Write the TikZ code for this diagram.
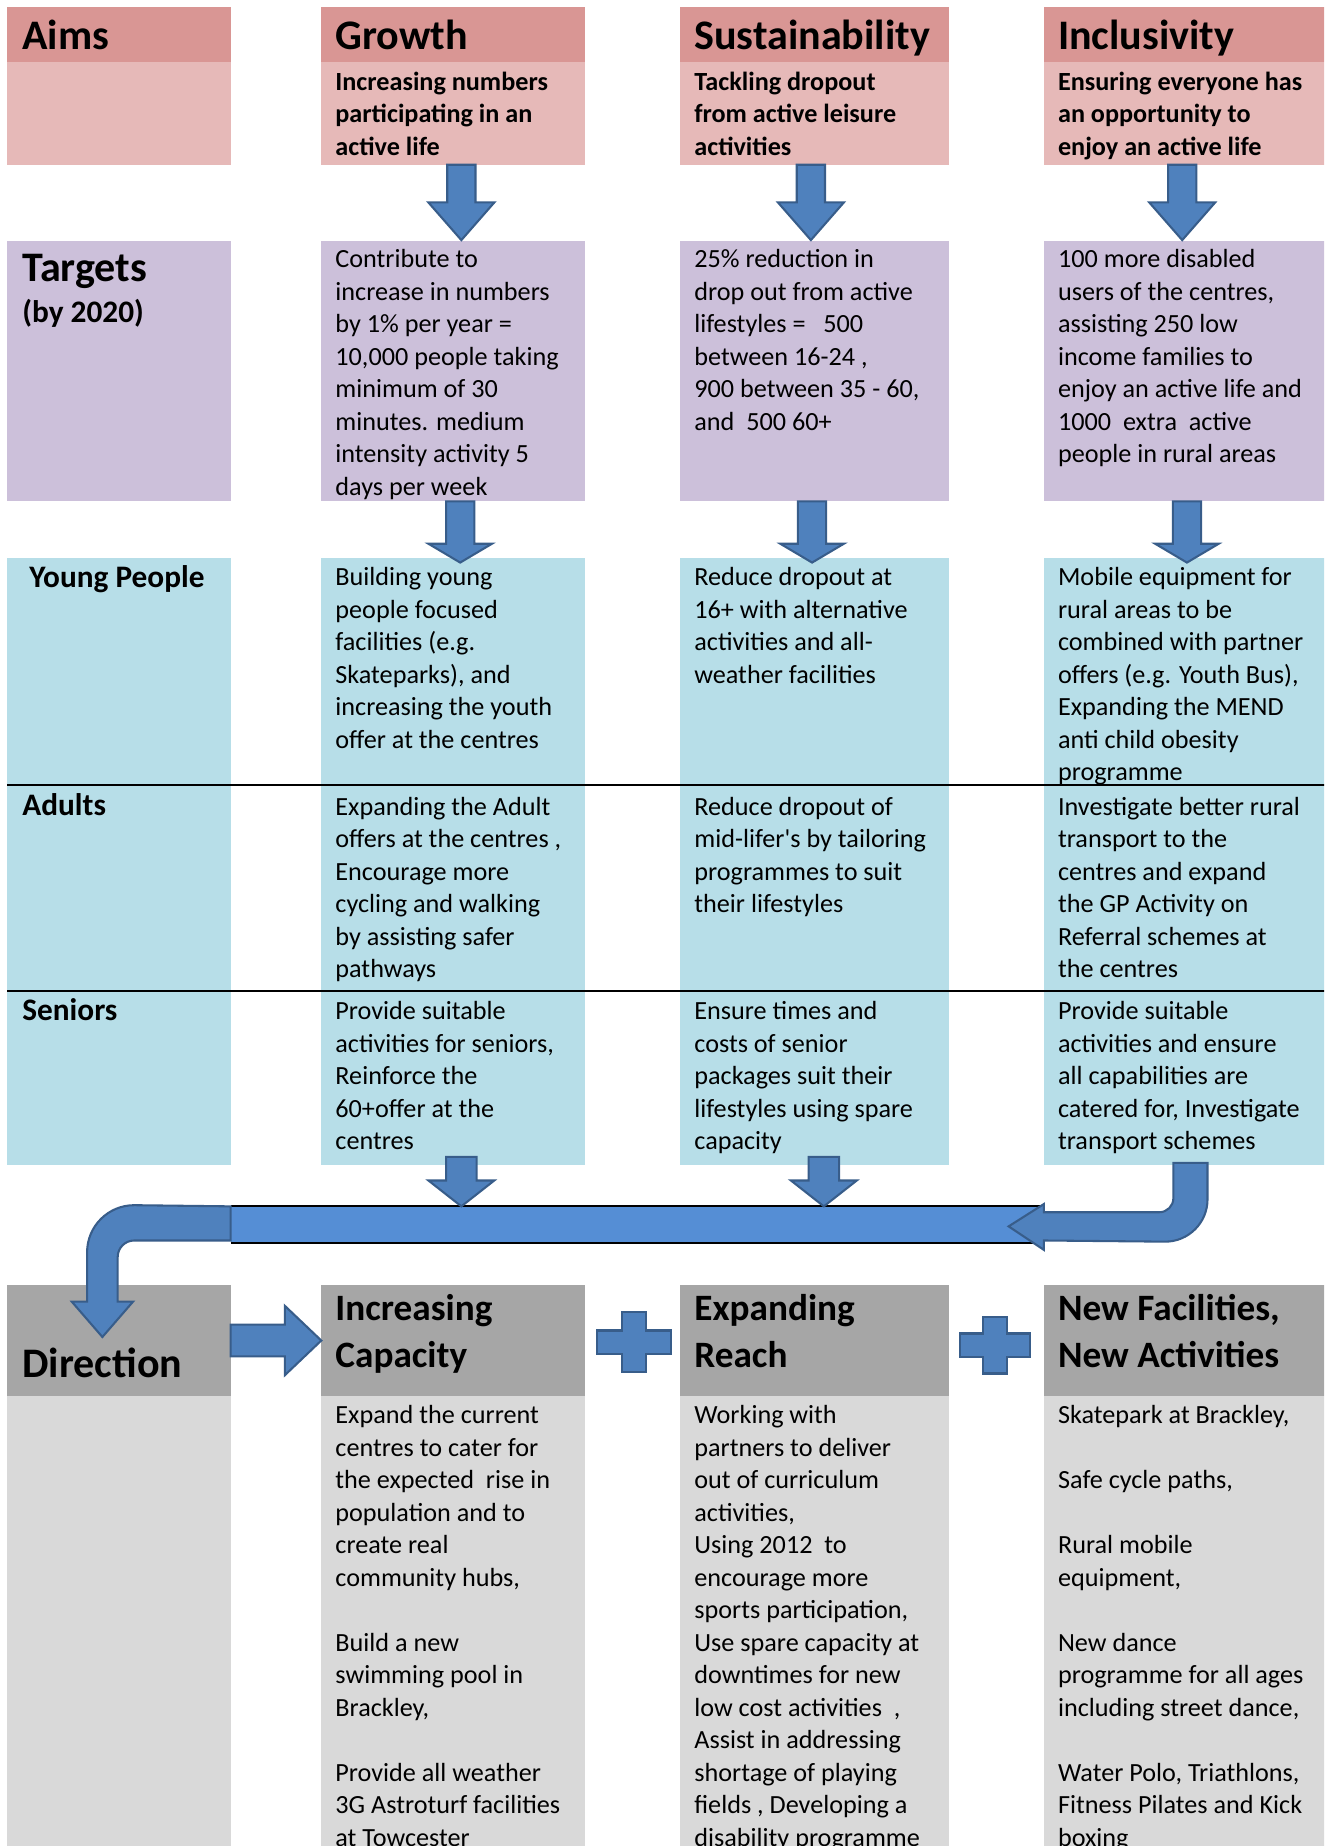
\documentclass[tikz,border=0pt]{standalone}
\usepackage{fontspec}
\setmainfont{Carlito}[Ligatures=TeXOff]
\usetikzlibrary{calc}
\newcommand\pxu{0.03cm}
\definecolor{hdrpink}{HTML}{D99694}
\definecolor{bodypink}{HTML}{E6B9B8}
\definecolor{tgtpurple}{HTML}{CCC0DA}
\definecolor{rowblue}{HTML}{B7DEE8}
\definecolor{hdrgray}{HTML}{A6A6A6}
\definecolor{bodygray}{HTML}{D9D9D9}
\definecolor{arrowfill}{HTML}{4F81BD}
\definecolor{arrowline}{HTML}{385D8A}
\definecolor{barfill}{HTML}{558ED5}
\tikzset{
  box/.style={rectangle, inner sep=0pt, outer sep=0pt, draw=none, anchor=north west},
  blockarrow/.style={fill=arrowfill, draw=arrowline, line width=1.5pt, line join=miter},
  firstbase/.style={anchor=north west, yshift=#1, execute at begin node={\rule{0pt}{#1}}},
  bodytxt/.style={inner sep=0pt, outer sep=0pt, align=left, firstbase=15.2pt, font=\fontsize{19}{23.57}\selectfont},
  boldtxt/.style={bodytxt, font=\fontsize{19}{23.57}\selectfont\bfseries},
  bigtitle/.style={anchor=base west, inner sep=0pt, outer sep=0pt, align=left, font=\fontsize{30.5}{36}\selectfont\bfseries},
  dirtitle/.style={inner sep=0pt, outer sep=0pt, align=left, firstbase=21.6pt, font=\fontsize{27}{34}\selectfont\bfseries},
  rowlabel/.style={anchor=base west, inner sep=0pt, outer sep=0pt, align=left, font=\fontsize{22.7}{27}\selectfont\bfseries},
  sepline/.style={line width=1pt, black},
  barline/.style={line width=1.5pt, black},
}
% box: name, colour, x, y, w, h (display px, y downward)
\newcommand\bx[6]{\node[box, fill=#2, minimum width=#5*\pxu, minimum height=#6*\pxu] (#1) at (#3,-#4) {};}
% down block arrow: start point, tip point, head length, shaft half width, head half width
\newcommand\blockdown[5]{%
  \filldraw[blockarrow] let \p1=(#1), \p2=(#2) in
    (\x1-#4*\pxu,\y1) -- (\x1+#4*\pxu,\y1) -- (\x1+#4*\pxu,\y2+#3*\pxu)
    -- (\x1+#5*\pxu,\y2+#3*\pxu) -- (\x1,\y2) -- (\x1-#5*\pxu,\y2+#3*\pxu)
    -- (\x1-#4*\pxu,\y2+#3*\pxu) -- cycle;}
% right block arrow
\newcommand\blockright[5]{%
  \filldraw[blockarrow] let \p1=(#1), \p2=(#2) in
    (\x1,\y1+#4*\pxu) -- (\x2-#3*\pxu,\y1+#4*\pxu) -- (\x2-#3*\pxu,\y1+#5*\pxu)
    -- (\x2,\y1) -- (\x2-#3*\pxu,\y1-#5*\pxu) -- (\x2-#3*\pxu,\y1-#4*\pxu)
    -- (\x1,\y1-#4*\pxu) -- cycle;}
% plus sign: cx, cy, half width, half height, half thickness
\newcommand\plusat[5]{%
  \filldraw[blockarrow] (#1-#5,-#2+#4) -- (#1+#5,-#2+#4) -- (#1+#5,-#2+#5) -- (#1+#3,-#2+#5)
    -- (#1+#3,-#2-#5) -- (#1+#5,-#2-#5) -- (#1+#5,-#2-#4) -- (#1-#5,-#2-#4)
    -- (#1-#5,-#2-#5) -- (#1-#3,-#2-#5) -- (#1-#3,-#2+#5) -- (#1-#5,-#2+#5) -- cycle;}
\begin{document}
\begin{tikzpicture}[x=\pxu, y=\pxu]
\useasboundingbox (0,0) rectangle (1125,-1568.5);
\fill[white] (0,0) rectangle (1125,-1568.5);
\clip (0,0) rectangle (1125,-1568.5);
% ---------- Aims row
\bx{a0h}{hdrpink}{6}{6}{190}{47}
\bx{a1h}{hdrpink}{273}{6}{224}{47}
\bx{a2h}{hdrpink}{578}{6}{228}{47}
\bx{a3h}{hdrpink}{887}{6}{239}{47}
\bx{a0}{bodypink}{6}{53}{190}{87}
\bx{a1}{bodypink}{273}{53}{224}{87}
\bx{a2}{bodypink}{578}{53}{228}{87}
\bx{a3}{bodypink}{887}{53}{239}{87}
% ---------- Targets row
\bx{t0}{tgtpurple}{6}{205}{190}{221}
\bx{t1}{tgtpurple}{273}{205}{224}{221}
\bx{t2}{tgtpurple}{578}{205}{228}{221}
\bx{t3}{tgtpurple}{887}{205}{239}{221}
% ---------- Young people / Adults / Seniors
\bx{y0}{rowblue}{6}{474}{190}{193}
\bx{y1}{rowblue}{273}{474}{224}{193}
\bx{y2}{rowblue}{578}{474}{228}{193}
\bx{y3}{rowblue}{887}{474}{239}{193}
\bx{d0}{rowblue}{6}{667}{190}{175}
\bx{d1}{rowblue}{273}{667}{224}{175}
\bx{d2}{rowblue}{578}{667}{228}{175}
\bx{d3}{rowblue}{887}{667}{239}{175}
\bx{s0}{rowblue}{6}{842}{190}{148}
\bx{s1}{rowblue}{273}{842}{224}{148}
\bx{s2}{rowblue}{578}{842}{228}{148}
\bx{s3}{rowblue}{887}{842}{239}{148}
\draw[sepline] (y0.south west) -- (y3.south east);
\draw[sepline] (d0.south west) -- (d3.south east);
% ---------- Direction row
\bx{r0h}{hdrgray}{6}{1092}{190}{94}
\bx{r1h}{hdrgray}{273}{1092}{224}{94}
\bx{r2h}{hdrgray}{578}{1092}{228}{94}
\bx{r3h}{hdrgray}{887}{1092}{239}{94}
\bx{r0}{bodygray}{6}{1186}{190}{390}
\bx{r1}{bodygray}{273}{1186}{224}{390}
\bx{r2}{bodygray}{578}{1186}{228}{390}
\bx{r3}{bodygray}{887}{1186}{239}{390}
% ---------- collecting bar
\node[box, fill=barfill, minimum width=691*\pxu, minimum height=31*\pxu] (bar) at (196,-1025) {};
\draw[barline] (bar.north west) -- (bar.north east);
\draw[barline] (bar.south west) -- (bar.south east);
% ---------- arrows Aims -> Targets
\blockdown{$(a1.south)+(7,0)$}{$(t1.north)+(7,1)$}{32}{12}{28}
\blockdown{$(a2.south)+(-3,0)$}{$(t2.north)+(-3,1)$}{32}{12}{28}
\blockdown{$(a3.south)+(-2,0)$}{$(t3.north)+(-2,1)$}{32}{12}{28}
% Targets -> Young people
\blockdown{$(t1.south)+(6,0)$}{$(y1.north)+(6,-4)$}{16}{12}{27}
\blockdown{$(t2.south)+(-2,0)$}{$(y2.north)+(-2,-4)$}{16}{12}{27}
\blockdown{$(t3.south)+(2,0)$}{$(y3.north)+(2,-4)$}{16}{12}{27}
% Seniors -> bar (bar top lies 35 px below the seniors boxes)
\blockdown{$(s1.south)+(7,7)$}{$(s1.south)+(7,-35)$}{22}{13}{28}
\blockdown{$(s2.south)+(8,7)$}{$(s2.south)+(8,-35)$}{22}{13}{28}
% bent arrow from col3 into the bar
\filldraw[blockarrow] (997,-988) -- (1026,-988) -- (1026,-1019)
  arc[start angle=0, end angle=-90, radius=36*\pxu] -- (887,-1054) -- (887,-1062)
  -- (857,-1042) -- (887,-1023) -- (887,-1030) -- (985,-1030)
  arc[start angle=-90, end angle=0, radius=12*\pxu] -- cycle;
% bent arrow from bar down to Direction
\filldraw[blockarrow] (bar.north west) -- (114,-1024)
  arc[start angle=90, end angle=180, radius=40*\pxu] -- (74,-1106) -- (61,-1106)
  -- (87,-1136) -- (113,-1106) -- (100,-1106) -- (100,-1068)
  arc[start angle=180, end angle=90, radius=14*\pxu] -- (196,-1054) -- cycle;
% Direction -> Increasing capacity
\blockright{r0h.east}{r1h.west}{31}{13.5}{29.5}
% plus signs
\plusat{538.5}{1140.5}{31.5}{25.5}{10}
\plusat{845.5}{1143}{29.5}{24}{10}
% ---------- texts
\node[bigtitle] (a0ht) at (19,-42) {Aims};
\node[bigtitle] (a1ht) at (285,-42) {Growth};
\node[bigtitle] (a2ht) at (590,-42) {Sustainability};
\node[bigtitle] (a3ht) at (899,-42) {Inclusivity};
\node[boldtxt] (a1t) at (285,-79) {Increasing numbers\\participating in an\\active life};
\node[boldtxt] (a2t) at (590,-79) {Tackling dropout\\from active leisure\\activities};
\node[boldtxt] (a3t) at (899,-79) {Ensuring everyone has\\an opportunity to\\enjoy an active life};
\node[bigtitle] (t0t) at (19,-239) {Targets};
\node[rowlabel] (t0s) at (19,-274) {(by 2020)};
\node[bodytxt] (t1t) at (285,-230) {Contribute to\\increase in numbers\\by 1\% per year =\\10,000 people taking\\minimum of 30\\minutes. medium\\intensity activity 5\\days per week};
\node[bodytxt] (t2t) at (590,-230) {25\% reduction in\\drop out from active\\lifestyles =\ \ \ 500\\between 16-24 ,\\900 between 35 - 60,\\and\ \ 500 60+};
\node[bodytxt] (t3t) at (899,-230) {100 more disabled\\users of the centres,\\assisting 250 low\\income families to\\enjoy an active life and\\1000\ \ extra\ \ active\\people in rural areas};
\node[rowlabel] (y0t) at (25,-499) {Young People};
\node[bodytxt] (y1t) at (285,-500) {Building young\\people focused\\facilities (e.g.\\Skateparks), and\\increasing the youth\\offer at the centres};
\node[bodytxt] (y2t) at (590,-500) {Reduce dropout at\\16+ with alternative\\activities and all-\\weather facilities};
\node[bodytxt] (y3t) at (899,-500) {Mobile equipment for\\rural areas to be\\combined with partner\\offers (e.g. Youth Bus),\\Expanding the MEND\\anti child obesity\\programme};
\node[rowlabel] (d0t) at (19,-693) {Adults};
\node[bodytxt] (d1t) at (285,-695) {Expanding the Adult\\offers at the centres ,\\Encourage more\\cycling and walking\\by assisting safer\\pathways};
\node[bodytxt] (d2t) at (590,-695) {Reduce dropout of\\mid-lifer's by tailoring\\programmes to suit\\their lifestyles};
\node[bodytxt] (d3t) at (899,-695) {Investigate better rural\\transport to the\\centres and expand\\the GP Activity on\\Referral schemes at\\the centres};
\node[rowlabel] (s0t) at (19,-867) {Seniors};
\node[bodytxt] (s1t) at (285,-869) {Provide suitable\\activities for seniors,\\Reinforce the\\60+offer at the\\centres};
\node[bodytxt] (s2t) at (590,-869) {Ensure times and\\costs of senior\\packages suit their\\lifestyles using spare\\capacity};
\node[bodytxt] (s3t) at (899,-869) {Provide suitable\\activities and ensure\\all capabilities are\\catered for, Investigate\\transport schemes};
\node[bigtitle] (r0ht) at (19,-1170) {Direction};
\node[dirtitle] (r1ht) at (285,-1125) {Increasing\\Capacity};
\node[dirtitle] (r2ht) at (590,-1125) {Expanding\\Reach};
\node[dirtitle] (r3ht) at (899,-1125) {New Facilities,\\New Activities};
\node[bodytxt] (r1t) at (285,-1212) {Expand the current\\centres to cater for\\the expected\ \ rise in\\population and to\\create real\\community hubs,\\[23.57pt]Build a new\\swimming pool in\\Brackley,\\[23.57pt]Provide all weather\\3G Astroturf facilities\\at Towcester};
\node[bodytxt] (r2t) at (590,-1212) {Working with\\partners to deliver\\out of curriculum\\activities,\\Using 2012\ \ to\\encourage more\\sports participation,\\Use spare capacity at\\downtimes for new\\low cost activities\ \ ,\\Assist in addressing\\shortage of playing\\fields , Developing a\\disability programme};
\node[bodytxt] (r3t) at (899,-1212) {Skatepark at Brackley,\\[23.57pt]Safe cycle paths,\\[23.57pt]Rural mobile\\equipment,\\[23.57pt]New dance\\programme for all ages\\including street dance,\\[23.57pt]Water Polo, Triathlons,\\Fitness Pilates and Kick\\boxing};
\end{tikzpicture}
\end{document}
